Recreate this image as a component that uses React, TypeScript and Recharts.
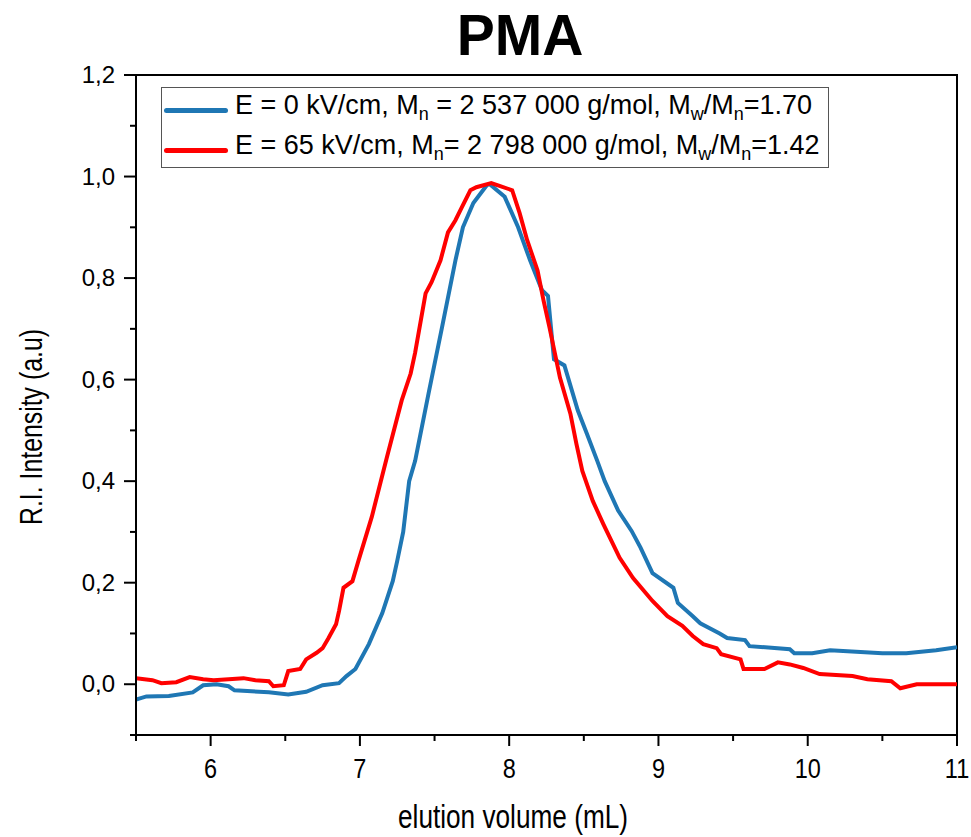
import React from 'react';
import { LineChart, Line, XAxis, YAxis, Legend, ReferenceArea } from 'recharts';

// E = 0 kV/cm (blue)
const blueVolume = [
  5.5, 5.57, 5.72, 5.88, 5.95, 6.04, 6.12, 6.16, 6.39, 6.52, 6.64, 6.75, 6.86, 6.91, 6.97,
  7.06, 7.15, 7.22, 7.25, 7.29, 7.33, 7.37, 7.46, 7.55, 7.64, 7.69, 7.76, 7.85, 7.87, 7.97,
  8.06, 8.14, 8.22, 8.26, 8.3, 8.37, 8.46, 8.52, 8.59, 8.64, 8.73, 8.82, 8.88, 8.96, 9.1,
  9.13, 9.23, 9.28, 9.41, 9.46, 9.58, 9.61, 9.88, 9.91, 10.03, 10.15, 10.5, 10.66, 10.86, 11.0,
];
const blueIntensity = [
  -0.03, -0.024, -0.023, -0.016, -0.002, 0.0, -0.004, -0.012, -0.016, -0.02, -0.015, -0.002, 0.002, 0.016, 0.03,
  0.079, 0.14, 0.203, 0.243, 0.3, 0.4, 0.44, 0.573, 0.703, 0.835, 0.9, 0.948, 0.983, 0.985, 0.96,
  0.9, 0.835, 0.776, 0.765, 0.64, 0.628, 0.539, 0.494, 0.44, 0.4, 0.342, 0.302, 0.269, 0.219, 0.19,
  0.16, 0.134, 0.12, 0.1, 0.091, 0.087, 0.075, 0.069, 0.061, 0.061, 0.067, 0.061, 0.061, 0.067, 0.073,
];

// E = 65 kV/cm (red)
const redVolume = [
  5.5, 5.61, 5.67, 5.77, 5.86, 5.95, 6.02, 6.22, 6.3, 6.39, 6.42, 6.49, 6.52, 6.6, 6.64,
  6.71, 6.75, 6.79, 6.84, 6.86, 6.89, 6.95, 6.99, 7.08, 7.14, 7.18, 7.28, 7.34, 7.37, 7.44,
  7.48, 7.54, 7.59, 7.64, 7.68, 7.74, 7.78, 7.88, 7.94, 8.02, 8.07, 8.12, 8.19, 8.23, 8.27,
  8.34, 8.41, 8.45, 8.49, 8.56, 8.63, 8.74, 8.83, 8.96, 9.06, 9.16, 9.23, 9.3, 9.39, 9.42,
  9.55, 9.57, 9.71, 9.8, 9.88, 9.97, 10.08, 10.3, 10.4, 10.56, 10.62, 10.73, 11.0,
];
const redIntensity = [
  0.012, 0.008, 0.002, 0.004, 0.014, 0.01, 0.008, 0.012, 0.008, 0.006, -0.004, -0.002, 0.026, 0.03, 0.049,
  0.062, 0.071, 0.091, 0.118, 0.144, 0.19, 0.203, 0.243, 0.33, 0.4, 0.446, 0.559, 0.612, 0.653, 0.77,
  0.792, 0.835, 0.89, 0.914, 0.938, 0.973, 0.979, 0.987, 0.981, 0.973, 0.928, 0.875, 0.815, 0.756, 0.703,
  0.604, 0.533, 0.474, 0.42, 0.361, 0.316, 0.249, 0.209, 0.164, 0.134, 0.115, 0.095, 0.079, 0.071, 0.059,
  0.049, 0.03, 0.03, 0.043, 0.039, 0.032, 0.02, 0.016, 0.01, 0.006, -0.008, 0.0, 0.0,
];

const xTicks = [5.5, 6, 6.5, 7, 7.5, 8, 8.5, 9, 9.5, 10, 10.5, 11];
const yTicks = [-1, 0, 1, 2, 3, 4, 5, 6, 7, 8, 9, 10, 11, 12].map((t) => t / 10);

const blueData = blueVolume.map((v, i) => ({ volume: v, intensity: blueIntensity[i] }));
const redData = redVolume.map((v, i) => ({ volume: v, intensity: redIntensity[i] }));

const FONT = '"Liberation Sans", Arial, sans-serif';

const XTick = ({ x, y, payload }: any) => {
  const v = payload.value;
  const major = Number.isInteger(v);
  return (
    <g>
      <line x1={x} x2={x} y1={y} y2={y + (major ? 11 : 6)} stroke="#000" strokeWidth={2} />
      {major && (
        <text
          transform={`translate(${x},${y + 43}) scale(0.84,1)`}
          textAnchor="middle"
          fontSize={28}
          fontFamily={FONT}
          fill="#000"
        >
          {v}
        </text>
      )}
    </g>
  );
};

const YTick = ({ x, y, payload }: any) => {
  const v = payload.value;
  const major = Math.round(v * 10) % 2 === 0;
  return (
    <g>
      <line x1={x} x2={x - (major ? 12 : 6)} y1={y} y2={y} stroke="#000" strokeWidth={2} />
      {major && (
        <text x={x - 21} y={y + 8} textAnchor="end" fontSize={24} fontFamily={FONT} fill="#000">
          {v.toFixed(1).replace('.', ',')}
        </text>
      )}
    </g>
  );
};

const legendRows = [
  { color: '#1f77b4', field: 'E = 0 kV/cm, M', mn: ' = 2 537 000 g/mol, M', ratio: '=1.70' },
  { color: '#ff0000', field: 'E = 65 kV/cm, M', mn: '= 2 798 000 g/mol, M', ratio: '=1.42' },
];

const renderLegend = () => (
  <div
    style={{
      border: '1.5px solid #555',
      width: 668,
      height: 81,
      boxSizing: 'border-box',
      fontFamily: FONT,
      fontSize: 27,
      color: '#000',
      background: '#fff',
      paddingTop: 2,
    }}
  >
    {legendRows.map((r, i) => (
      <div key={i} style={{ display: 'flex', alignItems: 'center', height: 40 }}>
        <div style={{ width: 64, height: 5, borderRadius: 3, background: r.color, marginLeft: 2, marginRight: 7 }} />
        <span style={{ whiteSpace: 'nowrap', lineHeight: '30px' }}>
          {r.field}
          <sub style={{ fontSize: 18 }}>n</sub>
          {r.mn}
          <sub style={{ fontSize: 18 }}>w</sub>/M<sub style={{ fontSize: 18 }}>n</sub>
          {r.ratio}
        </span>
      </div>
    ))}
  </div>
);

const App = () => (
  <div style={{ position: 'relative', width: 971, height: 837, background: '#fff' }}>
    <style>{'body{margin:0}'}</style>
    <div
      style={{
        position: 'absolute',
        top: 7,
        left: 0,
        width: 1040,
        textAlign: 'center',
        fontFamily: FONT,
        fontWeight: 'bold',
        fontSize: 57,
        lineHeight: '57px',
        color: '#000',
      }}
    >
      PMA
    </div>
    <LineChart width={971} height={837} margin={{ top: 75, right: 14, bottom: 0, left: 0 }}>
      <XAxis
        type="number"
        dataKey="volume"
        domain={[5.5, 11]}
        ticks={xTicks}
        interval={0}
        allowDataOverflow
        height={102}
        tickSize={0}
        tickMargin={0}
        tickLine={false}
        tick={<XTick />}
        axisLine={{ stroke: '#000', strokeWidth: 2 }}
        label={{
          content: ({ viewBox }: any) => (
            <text
              x={viewBox.x + 377}
              y={viewBox.y + 93}
              textAnchor="middle"
              fontSize={33}
              fontFamily={FONT}
              fill="#000"
              textLength={230}
              lengthAdjust="spacingAndGlyphs"
            >
              elution volume (mL)
            </text>
          ),
        }}
      />
      <YAxis
        type="number"
        domain={[-0.1, 1.2]}
        ticks={yTicks}
        interval={0}
        allowDataOverflow
        width={136}
        tickSize={0}
        tickMargin={0}
        tickLine={false}
        tick={<YTick />}
        axisLine={{ stroke: '#000', strokeWidth: 2 }}
        label={{
          content: () => (
            <text
              x={42}
              y={427}
              transform="rotate(-90, 42, 427)"
              textAnchor="middle"
              fontSize={32}
              fontFamily={FONT}
              fill="#000"
              textLength={196}
              lengthAdjust="spacingAndGlyphs"
            >
              R.I. Intensity (a.u)
            </text>
          ),
        }}
      />
      <ReferenceArea x1={5.5} x2={11} y1={-0.1} y2={1.2} fill="none" stroke="#000" strokeWidth={2} ifOverflow="visible" />
      <Line
        data={blueData}
        dataKey="intensity"
        type="linear"
        stroke="#1f77b4"
        strokeWidth={4}
        dot={false}
        isAnimationActive={false}
        name="E = 0 kV/cm"
      />
      <Line
        data={redData}
        dataKey="intensity"
        type="linear"
        stroke="#ff0000"
        strokeWidth={4}
        dot={false}
        isAnimationActive={false}
        name="E = 65 kV/cm"
      />
      <Legend
        layout="vertical"
        verticalAlign="middle"
        align="center"
        content={renderLegend}
        wrapperStyle={{ position: 'absolute', left: 161, top: 87, width: 'auto', height: 'auto' }}
      />
    </LineChart>
  </div>
);

export default App;
